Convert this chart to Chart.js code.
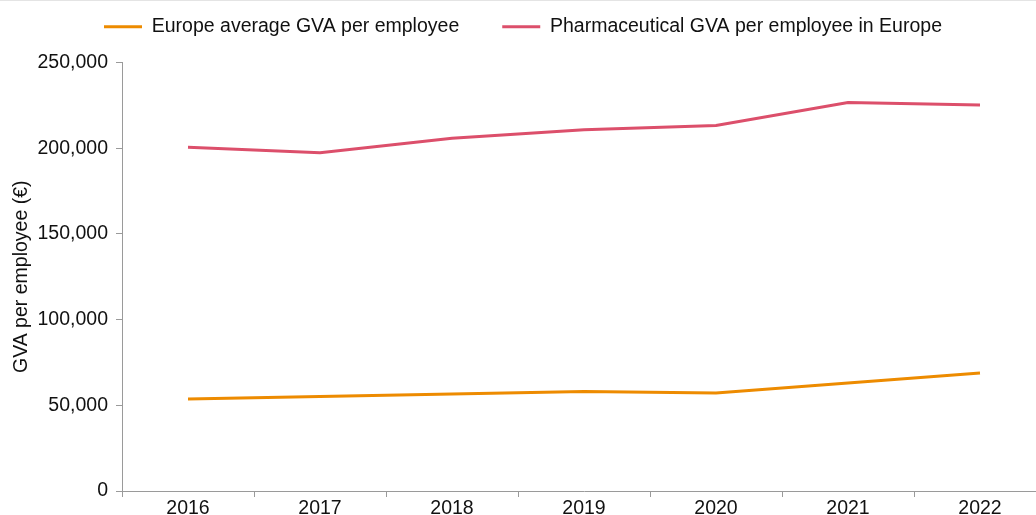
<!DOCTYPE html>
<html>
<head>
<meta charset="utf-8">
<script src="https://cdn.jsdelivr.net/npm/chart.js@4.4.1/dist/chart.umd.min.js"></script>
<style>
  html, body { margin: 0; padding: 0; background: #fff; overflow: hidden; }
  #wrap { position: relative; width: 1048px; height: 515px; border-top: 1px solid #e4e4e4; box-sizing: border-box; }
</style>
</head>
<body>
<div id="wrap"><canvas id="grafico"></canvas></div>
<script>
// anos e séries (GVA por empregado, €)
const anos = ['2016', '2017', '2018', '2019', '2020', '2021', '2022'];
const mediaEuropa = [53700, 55200, 56600, 58000, 57200, 63000, 68800];
const farmaEuropa = [200600, 197400, 205800, 210700, 213200, 226700, 225200];
const rotulos = ['Europe average GVA per employee', 'Pharmaceutical GVA per employee in Europe'];

const fonte = { family: "'Liberation Sans', Arial, Helvetica, sans-serif", size: 19.5 };
const corEixo = '#9a9a9a';

// espaço extra abaixo da legenda
const margemLegenda = {
    id: 'margemLegenda',
    beforeInit(chart) {
        const fitOriginal = chart.legend.fit;
        chart.legend.fit = function () {
            fitOriginal.bind(chart.legend)();
            this.height += 16;
        };
    }
};

const ctx = document.getElementById('grafico').getContext('2d');
new Chart(ctx, {
    type: 'line',
    data: {
        labels: anos,
        datasets: [
            { label: rotulos[0], data: mediaEuropa, borderColor: '#ed8b00', backgroundColor: '#ed8b00', borderWidth: 3, pointRadius: 0, tension: 0 },
            { label: rotulos[1], data: farmaEuropa, borderColor: '#dc4f6b', backgroundColor: '#dc4f6b', borderWidth: 3, pointRadius: 0, tension: 0 }
        ]
    },
    plugins: [margemLegenda],
    options: {
        responsive: true,
        maintainAspectRatio: false,
        animation: false,
        layout: { padding: { left: 0, right: 2, top: -27, bottom: 0 } },
        plugins: {
            legend: {
                position: 'top',
                labels: {
                    color: '#111', font: fonte,
                    boxWidth: 38, boxHeight: 3, padding: 43,
                    // traço fino, sem contorno
                    generateLabels: chart => Chart.defaults.plugins.legend.labels.generateLabels(chart)
                        .map(item => ({ ...item, lineWidth: 0 }))
                }
            },
            tooltip: { enabled: false }
        },
        scales: {
            x: {
                offset: true,
                grid: { display: true, drawOnChartArea: false, offset: true, color: corEixo, tickLength: 6 },
                border: { color: corEixo, width: 1 },
                ticks: { color: '#111', font: fonte, padding: 0, maxRotation: 0 },
                afterFit: s => { s.height = 24; }
            },
            y: {
                min: 0, max: 250000,
                grid: { drawOnChartArea: false, color: corEixo, tickLength: 6 },
                border: { color: corEixo, width: 1 },
                ticks: {
                    stepSize: 50000, color: '#111', font: fonte, padding: 8,
                    callback: v => v.toLocaleString('en-US')
                },
                title: { display: true, text: 'GVA per employee (€)', color: '#111', font: fonte, padding: { top: 10, bottom: 4 } },
                afterFit: s => { s.width = 122; }
            }
        }
    }
});
</script>
</body>
</html>
